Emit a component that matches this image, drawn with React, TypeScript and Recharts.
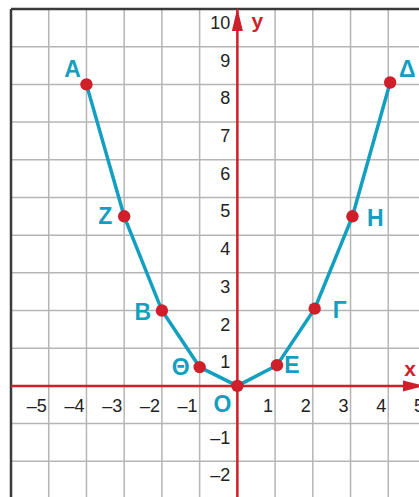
import {
  CartesianGrid,
  ComposedChart,
  Line,
  ReferenceDot,
  ReferenceLine,
  Scatter,
  XAxis,
  YAxis,
} from 'recharts';

// points of the broken line
const pointNames = ['Α', 'Ζ', 'Β', 'Θ', 'Ο', 'Ε', 'Γ', 'Η', 'Δ'];
const pointX = [-4, -3, -2, -1, 0, 1.05, 2.05, 3.05, 4.05];
const pointY = [8, 4.5, 2, 0.5, 0, 0.55, 2.05, 4.5, 8.05];

// grid lines and axis labels
const xGrid = [-6, -5, -4, -3, -2, -1, 0, 1, 2, 3, 4, 5];
const yGrid = [-3, -2, -1, 0, 1, 2, 3, 4, 5, 6, 7, 8, 9, 10];
const xTickValues = [-5, -4, -3, -2, -1, 1, 2, 3, 4, 5];
const yTickValues = [-2, -1, 1, 2, 3, 4, 5, 6, 7, 8, 9, 10];

const fmt = (v: number) => (v < 0 ? `–${Math.abs(v)}` : String(v));

const points = pointX.map((x, i) => ({ x, y: pointY[i], name: pointNames[i] }));
const xTicks = xTickValues.map((x) => ({ x, y: 0, text: fmt(x) }));
const yTicks = yTickValues.map((y) => ({ x: 0, y, text: fmt(y) }));

// label offset from its point, in px
const labelOffset: Record<string, [number, number]> = {
  Α: [-14, -15],
  Ζ: [-19, 0],
  Β: [-19, 1],
  Θ: [-19, 0],
  Ο: [-15, 18],
  Ε: [15, 0],
  Γ: [25, 1],
  Η: [23, 2],
  Δ: [17, -14],
};

const RED = '#cf1f2b';
const TEAL = '#139fc0';
const FONT = '"Liberation Sans", Arial, sans-serif';

const PointDot = (props: any) => {
  const { cx, cy, payload, index } = props;
  const [dx, dy] = labelOffset[payload.name] ?? [0, 0];
  return (
    <g key={`pt-${index}`}>
      <circle cx={cx} cy={cy} r={6.2} fill={RED} />
      <text
        x={cx + dx}
        y={cy + dy + 8}
        textAnchor="middle"
        fontFamily={FONT}
        fontWeight="bold"
        fontSize={23}
        fill={TEAL}
      >
        {payload.name}
      </text>
    </g>
  );
};

const XTickLabel = (props: any) => (
  <text
    x={props.cx - 2}
    y={props.cy + 26}
    textAnchor="end"
    fontFamily={FONT}
    fontSize={18}
    fill="#222"
  >
    {props.payload.text}
  </text>
);

const YTickLabel = (props: any) => (
  <text
    x={props.cx - 7}
    y={props.cy + 20}
    textAnchor="end"
    fontFamily={FONT}
    fontSize={18}
    fill="#222"
  >
    {props.payload.text}
  </text>
);

const YArrow = (props: any) => {
  const { cx, cy } = props;
  return (
    <g>
      <path d={`M${cx},${cy - 1} L${cx + 5.5},${cy + 22} L${cx - 5.5},${cy + 22} Z`} fill={RED} />
      <text x={cx + 20} y={cy + 19} textAnchor="middle" fontFamily={FONT} fontWeight="bold" fontSize={21} fill={RED}>
        y
      </text>
    </g>
  );
};

const XArrow = (props: any) => {
  const { cx, cy } = props;
  return (
    <g>
      <path d={`M${cx - 2},${cy} L${cx - 23},${cy - 5.5} L${cx - 23},${cy + 5.5} Z`} fill={RED} />
      <text x={cx - 16} y={cy - 10} textAnchor="middle" fontFamily={FONT} fontWeight="bold" fontSize={21} fill={RED}>
        x
      </text>
    </g>
  );
};

export default function App() {
  return (
    <div style={{ position: 'absolute', left: 0, top: 0, width: 419, height: 497, overflow: 'hidden', background: '#fff' }}>
      <ComposedChart width={426} height={499} margin={{ top: 9, right: 0, bottom: 0, left: 11 }}>
        <CartesianGrid stroke="#b5b5b5" strokeWidth={1.5} />
        <XAxis type="number" dataKey="x" domain={[-6, 5]} ticks={xGrid} hide allowDataOverflow />
        <YAxis type="number" dataKey="y" domain={[-3, 10]} ticks={yGrid} hide allowDataOverflow />
        <ReferenceLine x={-6} stroke="#3a3a3a" strokeWidth={2.5} />
        <ReferenceLine y={10} stroke="#3a3a3a" strokeWidth={2.5} />
        <ReferenceLine x={0} stroke={RED} strokeWidth={2.5} />
        <ReferenceLine y={0} stroke={RED} strokeWidth={2.5} />
        <ReferenceDot x={0} y={10} shape={YArrow} />
        <ReferenceDot x={5} y={0} shape={XArrow} />
        <Scatter data={xTicks} shape={XTickLabel} isAnimationActive={false} />
        <Scatter data={yTicks} shape={YTickLabel} isAnimationActive={false} />
        <Line
          data={points}
          dataKey="y"
          stroke={TEAL}
          strokeWidth={3.5}
          dot={PointDot}
          activeDot={false}
          isAnimationActive={false}
        />
      </ComposedChart>
    </div>
  );
}
